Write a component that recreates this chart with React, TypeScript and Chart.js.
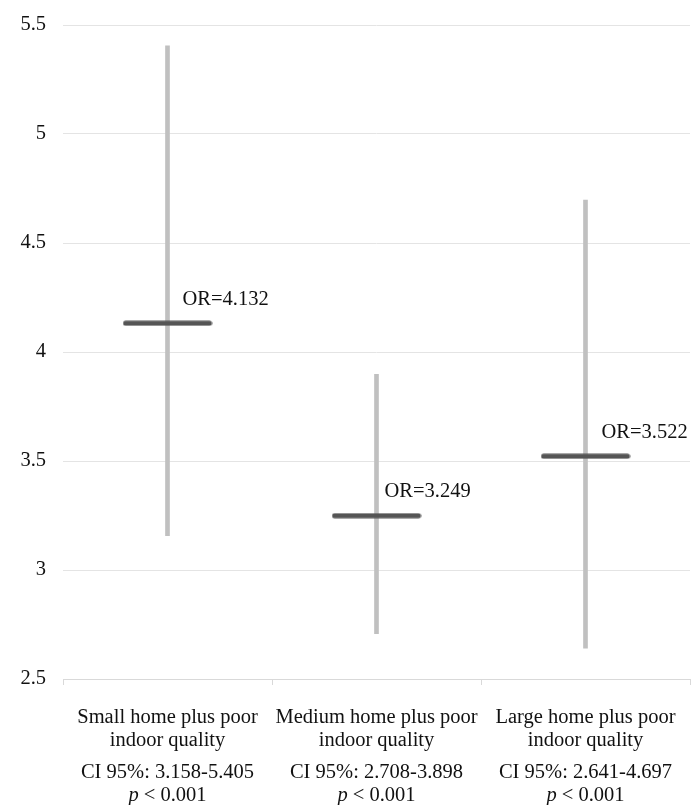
import React, { useEffect, useRef } from "react";
import { Chart, registerables } from "chart.js";

Chart.register(...registerables);

const categories = ["Small home plus poor indoor quality", "Medium home plus poor indoor quality", "Large home plus poor indoor quality"];
const nameLine1 = ["Small home plus poor", "Medium home plus poor", "Large home plus poor"];
const nameLine2 = ["indoor quality", "indoor quality", "indoor quality"];
const ciLow = [3.158, 2.708, 2.641];
const ciHigh = [5.405, 3.898, 4.697];
const oddsRatios = [4.132, 3.249, 3.522];
const orLabels = ["OR=4.132", "OR=3.249", "OR=3.522"];
const ciLabels = ["CI 95%: 3.158-5.405", "CI 95%: 2.708-3.898", "CI 95%: 2.641-4.697"];
const pLabels = ["< 0.001", "< 0.001", "< 0.001"];
const yTicks = [2.5, 3, 3.5, 4, 4.5, 5, 5.5];

const FONT = "'Liberation Serif', 'Times New Roman', serif";
const TEXT = "#111111";
const FS = 20.5;

function makeMarker(): HTMLCanvasElement {
  const c = document.createElement("canvas");
  c.width = 90;
  c.height = 6;
  const g = c.getContext("2d")!;
  g.strokeStyle = "#555555";
  g.lineWidth = 5;
  g.lineCap = "round";
  g.beginPath();
  g.moveTo(3, 3);
  g.lineTo(87, 3);
  g.stroke();
  return c;
}

const labelPlugin = {
  id: "customLabels",
  afterDatasetsDraw(chart: any) {
    const ctx = chart.ctx;
    const x = chart.scales.x;
    const y = chart.scales.y;
    const offs = [15, 8, 16];
    ctx.save();
    ctx.font = `${FS}px ${FONT}`;
    ctx.fillStyle = TEXT;
    ctx.textAlign = "left";
    ctx.textBaseline = "middle";
    oddsRatios.forEach((v, i) => {
      const px = x.getPixelForValue(i);
      const py = y.getPixelForValue(v);
      ctx.fillText(orLabels[i], px + offs[i], py - 24);
    });
    ctx.restore();
  },
  afterDraw(chart: any) {
    const ctx = chart.ctx;
    const x = chart.scales.x;
    ctx.save();
    ctx.fillStyle = TEXT;
    ctx.textBaseline = "middle";
    const normal = `${FS}px ${FONT}`;
    const italic = `italic ${FS}px ${FONT}`;
    categories.forEach((_, i) => {
      const cx = x.getPixelForValue(i);
      ctx.textAlign = "center";
      ctx.font = normal;
      ctx.fillText(nameLine1[i], cx, 718);
      ctx.fillText(nameLine2[i], cx, 741);
      ctx.fillText(ciLabels[i], cx, 773);
      ctx.font = italic;
      const wp = ctx.measureText("p").width;
      ctx.font = normal;
      const rest = " " + pLabels[i];
      const wr = ctx.measureText(rest).width;
      const start = cx - (wp + wr) / 2;
      ctx.textAlign = "left";
      ctx.font = italic;
      ctx.fillText("p", start, 796);
      ctx.font = normal;
      ctx.fillText(rest, start + wp, 796);
    });
    ctx.restore();
  },
};

export default function App() {
  const ref = useRef<HTMLCanvasElement>(null);
  useEffect(() => {
    document.body.style.margin = "0";
    const canvas = ref.current!;
    const marker = makeMarker();
    const chart = new Chart(canvas, {
      type: "bar",
      data: {
        labels: categories,
        datasets: [
          {
            type: "line",
            label: "OR",
            data: oddsRatios,
            showLine: false,
            pointStyle: marker,
            pointRadius: 2,
            pointHoverRadius: 2,
            pointBorderWidth: 0,
            borderWidth: 0,
            borderColor: "#555555",
            backgroundColor: "#555555",
            clip: false,
            order: 0,
          } as any,
          {
            type: "bar",
            label: "CI",
            data: ciLow.map((l, i) => [l, ciHigh[i]]),
            backgroundColor: "#c0c0c0",
            borderWidth: 0,
            barThickness: 4,
            order: 1,
          } as any,
        ],
      },
      options: {
        responsive: false,
        animation: false,
        layout: { padding: { top: 25, right: 3, left: 0, bottom: 0 } },
        plugins: { legend: { display: false }, tooltip: { enabled: false } },
        scales: {
          x: {
            offset: true,
            grid: {
              offset: true,
              drawOnChartArea: false,
              drawTicks: true,
              tickLength: 6,
              color: "#d9d9d9",
            },
            border: { display: true, color: "#d9d9d9" },
            ticks: { display: false },
            afterFit(scale: any) {
              scale.height = 126;
            },
          },
          y: {
            min: 2.5,
            max: 5.5,
            afterBuildTicks(scale: any) {
              scale.ticks = yTicks.map((v) => ({ value: v }));
            },
            grid: { color: "#e4e4e4", drawTicks: false },
            border: { display: false },
            ticks: {
              padding: 17,
              color: TEXT,
              font: { family: FONT, size: FS },
              callback: (v: any) => String(v),
            },
            afterFit(scale: any) {
              scale.width = 63;
              scale.paddingTop = 0;
              scale.paddingBottom = 0;
            },
          },
        },
      },
      plugins: [labelPlugin],
    });
    return () => chart.destroy();
  }, []);
  return <canvas ref={ref} width={693} height={805} style={{ display: "block" }} />;
}
